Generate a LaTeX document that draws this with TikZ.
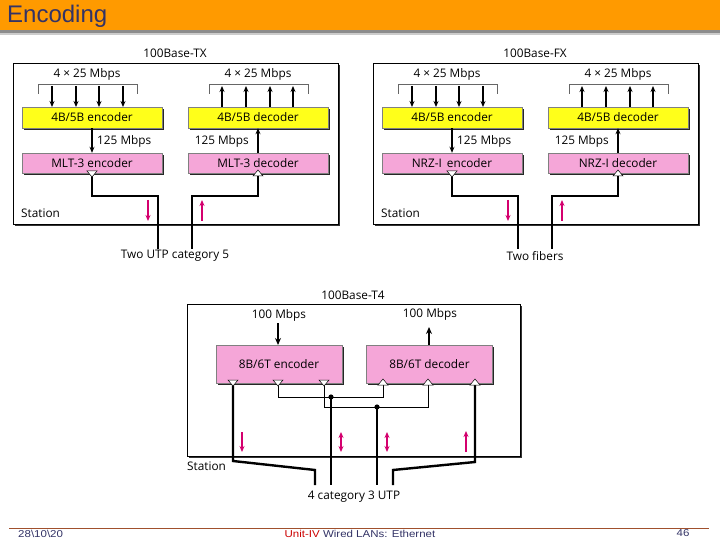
\documentclass[tikz,border=0pt]{standalone}
\usepackage{fontspec}
\setmainfont{Open Sans}
\newfontfamily\arialfont{Liberation Sans}
\usetikzlibrary{arrows.meta,shadows}
\definecolor{barorange}{HTML}{FF9A00}
\definecolor{titleblue}{HTML}{333366}
\definecolor{encyellow}{HTML}{FFFF1A}
\definecolor{encpink}{HTML}{F5A6D8}
\definecolor{sigmag}{HTML}{D4006E}
\definecolor{footline}{HTML}{A0502D}
\definecolor{footred}{HTML}{CC0000}
\tikzset{
  outerbox/.style={draw=black, line width=0.9pt, fill=white,
    drop shadow={shadow xshift=2.2pt, shadow yshift=-2.2pt, opacity=1, fill=black!80}},
  blockbox/.style={draw=black!50, line width=0.4pt, inner sep=0pt,
    drop shadow={shadow xshift=1.6pt, shadow yshift=-1.6pt, opacity=1, fill=black!85},
    font=\fontsize{11.8}{13}\selectfont},
  yblock/.style={blockbox, fill=encyellow, minimum width=140pt, minimum height=21pt},
  pblock/.style={blockbox, fill=encpink, minimum width=140pt, minimum height=20pt},
  tblock/.style={blockbox, fill=encpink, minimum width=126pt, minimum height=38pt},
  lbl/.style={inner sep=0pt, font=\fontsize{11.8}{13}\selectfont},
  sarrow/.style={line width=1.1pt, -{Stealth[length=6pt,width=5pt]}},
  cable/.style={line width=2.4pt},
  thinw/.style={line width=0.8pt},
  magarrow/.style={draw=sigmag, line width=1.1pt, -{Stealth[length=6pt,width=5pt]}},
  magdbl/.style={draw=sigmag, line width=1.1pt, {Stealth[length=6pt,width=5pt]}-{Stealth[length=6pt,width=5pt]}},
  tridown/.style={draw=black, line width=0.5pt, fill=white},
  foottext/.style={inner sep=0pt, xscale=1.15, font=\arialfont\fontsize{10}{12}\selectfont},
}
\newcommand{\mypanel}[6]{%
  % #1 prefix, #2 x shift, #3 title, #4 encoder2 text, #5 decoder2 text, #6 cable label
  \begin{scope}[xshift=#2]
    \node[lbl] (#1title) at (175,53) {#3};
    \path[outerbox] (13,63) rectangle (338,224);
    \node[yblock] (#1enc) at (92,117.5) {4B/5B encoder};
    \node[yblock] (#1dec) at (258,117.5) {4B/5B decoder};
    \node[pblock] (#1penc) at (92,163) {#4};
    \node[pblock] (#1pdec) at (258,163) {#5};
    \node[lbl] (#1inrate) at (87,74) {4 × 25 Mbps};
    \node[lbl] (#1outrate) at (258,74) {4 × 25 Mbps};
    \draw[line width=0.5pt, black!60] (38,94) -- (38,84) -- (137,84) -- (137,94);
    \draw[line width=0.5pt, black!60] (209,94) -- (209,84) -- (308,84) -- (308,94);
    \foreach \xx in {52,76,99,123} {
      \coordinate (#1in\xx) at (\xx,86);
      \draw[sarrow] (#1in\xx) -- (\xx,107);
    }
    \foreach \xx in {222,246,270,293} {
      \coordinate (#1out\xx) at (\xx,86);
      \draw[sarrow] (\xx,107) -- (#1out\xx);
    }
    \draw[sarrow] (#1enc.south) -- (#1penc.north);
    \draw[sarrow] (#1pdec.north) -- (#1dec.south);
    \node[lbl, anchor=west] (#1r1) at (97,141) {125 Mbps};
    \node[lbl, anchor=east] (#1r2) at (249,141) {125 Mbps};
    % cables
    \coordinate (#1ta) at (92,176);
    \coordinate (#1tb) at (258,176);
    \coordinate (#1ea) at (158,249);
    \coordinate (#1eb) at (192,249);
    \draw[cable] (#1ta) |- (158,196) -- (#1ea);
    \draw[cable] (#1tb) |- (192,196) -- (#1eb);
    \draw[tridown] (87,171) -- (97,171) -- (92,177) -- cycle;
    \draw[tridown] (253,176) -- (263,176) -- (258,170) -- cycle;
    \draw[magarrow] (148,200) -- (148,221);
    \draw[magarrow] (202,221) -- (202,200);
    \node[lbl, anchor=west] (#1station) at (21,213) {Station};
    \node[lbl] (#1cablelbl) at (175,256) {#6};
  \end{scope}
}
\begin{document}
\begin{tikzpicture}[x=1pt,y=-1pt]
\path[use as bounding box, fill=white] (0,0) rectangle (720,540);
% title bar
\fill[black!45] (0,29) rectangle (720,33);
\fill[black!20] (0,33) rectangle (720,35);
\fill[barorange] (0,0) rectangle (720,30);
\node[anchor=west, inner sep=0pt, text=titleblue, font=\arialfont\fontsize{24}{28}\selectfont] (title) at (7,16) {Encoding};
% panels
\mypanel{tx}{0pt}{100Base-TX}{MLT-3 encoder}{MLT-3 decoder}{Two UTP category 5}
\mypanel{fx}{360pt}{100Base-FX}{NRZ-I\ \,encoder}{NRZ-I decoder}{Two fibers}
% T4 panel
\node[lbl] (t4title) at (353,295) {100Base-T4};
\path[outerbox] (187,304) rectangle (520,456);
\node[tblock] (t4enc) at (279,364) {8B/6T encoder};
\node[tblock] (t4dec) at (429.5,364) {8B/6T decoder};
\node[lbl] (t4in) at (279,315) {100 Mbps};
\node[lbl] (t4out) at (430,314) {100 Mbps};
\coordinate (t4ina) at (278,323);
\coordinate (t4outa) at (429,327);
\draw[line width=1.5pt, -{Stealth[length=7pt,width=6pt]}] (t4ina) -- (278,345);
\draw[line width=1.5pt, -{Stealth[length=7pt,width=6pt]}] (429,345) -- (t4outa);
% thin crossing lines
\coordinate (d1) at (331,397);
\coordinate (d2) at (377,407);
\draw[thinw] (278,385) |- (383,397) -- (383,385);
\draw[thinw] (324,385) |- (428,407) -- (428,385);
% thick cables
\coordinate (c1) at (315,485);
\coordinate (c2) at (331,485);
\coordinate (c3) at (377,485);
\coordinate (c4) at (393,485);
\draw[cable] (233,385) -- (233,461) -- (315,470) -- (c1);
\draw[cable] (d1) -- (c2);
\draw[cable] (d2) -- (c3);
\draw[cable] (475,385) -- (475,462) -- (393,470) -- (c4);
\fill (d1) circle (2.6);
\fill (d2) circle (2.6);
% triangles
\foreach \xx in {233,278,324} {
  \draw[tridown] (\xx-5,380) -- (\xx+5,380) -- (\xx,386) -- cycle;
}
\foreach \xx in {383,428,475} {
  \draw[tridown] (\xx-5,385) -- (\xx+5,385) -- (\xx,379) -- cycle;
}
% signal direction arrows
\draw[magarrow] (242,432) -- (242,452);
\draw[magdbl] (341,432) -- (341,452);
\draw[magdbl] (387,432) -- (387,452);
\draw[magarrow] (466,452) -- (466,431);
\node[lbl, anchor=west] (t4station) at (187,466) {Station};
\node[lbl] (t4cable) at (354,497) {4 category 3 UTP};
% footer
\draw[footline, line width=0.8pt] (9,528) -- (709,528);
\node[foottext, anchor=west, text=titleblue] (fdate) at (18,534) {28\textbackslash 10\textbackslash 20};
\node[foottext] (funit) at (360,534) {\textcolor{footred}{Unit-IV} \textcolor{titleblue}{Wired LANs: Ethernet}};
\node[foottext, text=titleblue] (fpage) at (683,533) {46};
\end{tikzpicture}
\end{document}
